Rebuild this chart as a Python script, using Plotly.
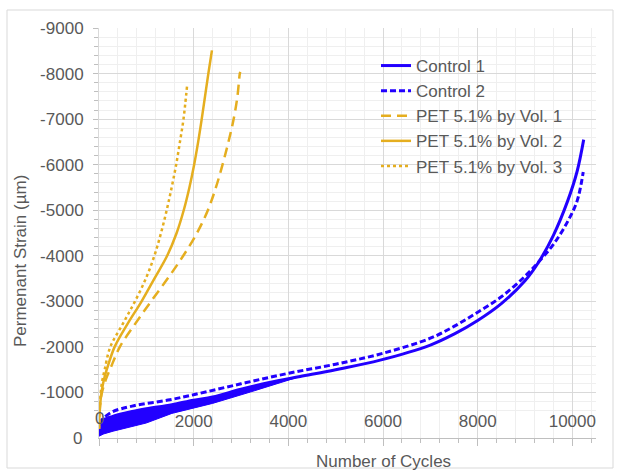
import plotly.graph_objects as go

# --- Data -------------------------------------------------------------
control1_cycles = [0, 30, 100, 275, 700, 1000, 1540, 2000, 2400, 3000, 3600,
                   4250, 5000, 5940, 7000, 7500, 8000, 8500, 9000, 9300, 9600,
                   9900, 10100, 10240]
control1_strain = [-280, -330, -400, -470, -580, -640, -730, -830, -900, -1070, -1220,
                   -1350, -1500, -1710, -2040, -2280, -2580, -2950, -3450, -3880, -4450,
                   -5200, -5850, -6550]

# lower envelope of the Control 1 cyclic scatter (load/unload spread)
control1_low_cycles = [0, 100, 300, 700, 1000, 1540, 2000, 2400, 3200, 3800, 4250]
control1_low_strain = [-40, -90, -150, -250, -330, -540, -650, -760, -1010, -1200, -1350]

control2_cycles = [0, 60, 275, 700, 1500, 2000, 3000, 4000, 5000, 6000, 7000,
                   7500, 8000, 8500, 9000, 9300, 9600, 9900, 10100, 10230]
control2_strain = [-330, -400, -570, -700, -840, -950, -1190, -1420, -1620, -1860, -2190,
                   -2450, -2760, -3100, -3550, -3880, -4250, -4750, -5200, -5840]

pet1_cycles = [0, 10, 30, 63, 150, 250, 440, 760, 1100, 1450, 1780, 2070,
               2300, 2470, 2610, 2735, 2845, 2925, 2975, 2985]
pet1_strain = [-200, -500, -800, -1000, -1300, -1550, -2000, -2500, -3000, -3500, -4000,
               -4500, -5000, -5500, -6000, -6500, -7000, -7500, -8000, -8036]

pet2_cycles = [0, 10, 30, 60, 120, 200, 330, 600, 900, 1170, 1440, 1640,
               1790, 1910, 2010, 2095, 2170, 2240, 2310, 2386]
pet2_strain = [-200, -500, -800, -1050, -1350, -1620, -2000, -2500, -3000, -3500, -4000,
               -4500, -5000, -5500, -6000, -6500, -7000, -7500, -8000, -8510]

pet3_cycles = [0, 10, 30, 60, 120, 239, 500, 760, 990, 1170, 1310, 1430,
               1535, 1630, 1710, 1785, 1860]
pet3_strain = [-200, -500, -900, -1200, -1500, -2000, -2500, -3000, -3500, -4000, -4500,
               -5000, -5500, -6000, -6500, -7000, -7723]

x_ticks = [0, 2000, 4000, 6000, 8000, 10000]
x_tick_labels = ["0", "2000", "4000", "6000", "8000", "10000"]
y_ticks = [0, -1000, -2000, -3000, -4000, -5000, -6000, -7000, -8000, -9000]
y_tick_labels = ["0", "-1000", "-2000", "-3000", "-4000", "-5000", "-6000",
                 "-7000", "-8000", "-9000"]

BLUE = "#2200FF"
GOLD = "#E5AE1F"
TEXT = "#595959"
FONT = "Liberation Sans, Arial, sans-serif"

fig = go.Figure()

# filled band for Control 1 (lower envelope forward, upper envelope back)
n_band = sum(1 for c in control1_cycles if c <= control1_low_cycles[-1])
band_x = control1_low_cycles + control1_cycles[:n_band][::-1]
band_y = control1_low_strain + control1_strain[:n_band][::-1]
fig.add_trace(go.Scatter(x=band_x, y=band_y, mode="lines", fill="toself",
                         fillcolor=BLUE, line=dict(color=BLUE, width=1),
                         showlegend=False, hoverinfo="skip"))

fig.add_trace(go.Scatter(x=control1_cycles, y=control1_strain, mode="lines",
                         name="Control 1", line=dict(color=BLUE, width=3, shape="spline")))
fig.add_trace(go.Scatter(x=control2_cycles, y=control2_strain, mode="lines",
                         name="Control 2",
                         line=dict(color=BLUE, width=3, dash="6px,3px", shape="spline")))
fig.add_trace(go.Scatter(x=pet1_cycles, y=pet1_strain, mode="lines",
                         name="PET 5.1% by Vol. 1",
                         line=dict(color=GOLD, width=2.5, dash="10px,6px", shape="spline")))
fig.add_trace(go.Scatter(x=pet2_cycles, y=pet2_strain, mode="lines",
                         name="PET 5.1% by Vol. 2",
                         line=dict(color=GOLD, width=2.5, shape="spline")))
fig.add_trace(go.Scatter(x=pet3_cycles, y=pet3_strain, mode="lines",
                         name="PET 5.1% by Vol. 3",
                         line=dict(color=GOLD, width=2.5, dash="dot", shape="spline")))

L, R, T, B = 99, 24, 28, 34
W, H = 620, 472
pw, ph = W - L - R, H - T - B


def px_x(p):
    return (p - L) / pw


def px_y(p):
    return (H - B - p) / ph


# the "0" labels at the shared origin are suppressed by Plotly when the
# x labels sit inside the plot, so they are placed explicitly
origin_labels = [
    dict(text=x_tick_labels[0], xref="x", yref="paper", x=x_ticks[0], y=px_y(418),
         xanchor="center", yanchor="middle", showarrow=False,
         font=dict(size=17, color=TEXT)),
    dict(text=y_tick_labels[0], xref="paper", yref="y", x=px_x(84), y=y_ticks[0],
         xanchor="right", yanchor="middle", showarrow=False,
         font=dict(size=17, color=TEXT)),
]

fig.update_layout(
    width=W, height=H,
    margin=dict(l=L, r=R, t=T, b=B),
    paper_bgcolor="white", plot_bgcolor="white",
    font=dict(family=FONT, size=17, color=TEXT),
    legend=dict(x=px_x(376), y=px_y(48), xanchor="left", yanchor="top",
                bgcolor="rgba(0,0,0,0)", font=dict(size=17, color=TEXT),
                tracegroupgap=0),
    xaxis=dict(range=[0, 10500], tickvals=x_ticks, ticktext=x_tick_labels,
               showgrid=True, gridcolor="#d9d9d9", gridwidth=1,
               ticks="outside", ticklen=7, tickcolor="#bfbfbf",
               ticklabelposition="inside", ticklabelstandoff=8,
               showline=True, linecolor="#bfbfbf", zeroline=False,
               tickfont=dict(size=17, color=TEXT),
               minor=dict(dtick=400, showgrid=True, gridcolor="#efefef",
                          ticks="outside", ticklen=4, tickcolor="#bfbfbf")),
    yaxis=dict(range=[0, -9000], tickvals=y_ticks, ticktext=y_tick_labels,
               showgrid=True, gridcolor="#d9d9d9", gridwidth=1,
               ticks="outside", ticklen=5, tickcolor="#bfbfbf",
               ticklabelstandoff=6,
               showline=True, linecolor="#d9d9d9", zeroline=False,
               tickfont=dict(size=17, color=TEXT),
               minor=dict(dtick=200, showgrid=True, gridcolor="#efefef",
                          ticks="outside", ticklen=4, tickcolor="#bfbfbf")),
    annotations=[
        dict(text="Number of Cycles", xref="paper", yref="paper",
             x=px_x(383), y=px_y(461), xanchor="center", yanchor="middle",
             showarrow=False, font=dict(size=17, color=TEXT)),
        dict(text="Permenant Strain (µm)", xref="paper", yref="paper",
             x=px_x(20), y=px_y(261), xanchor="center", yanchor="middle",
             showarrow=False, textangle=-90, font=dict(size=17, color=TEXT)),
    ] + origin_labels,
    shapes=[
        dict(type="rect", xref="paper", yref="paper",
             x0=px_x(7), x1=px_x(613), y0=px_y(468), y1=px_y(10),
             line=dict(color="#d9d9d9", width=1), layer="below"),
    ],
)

fig.write_html("out.html")
